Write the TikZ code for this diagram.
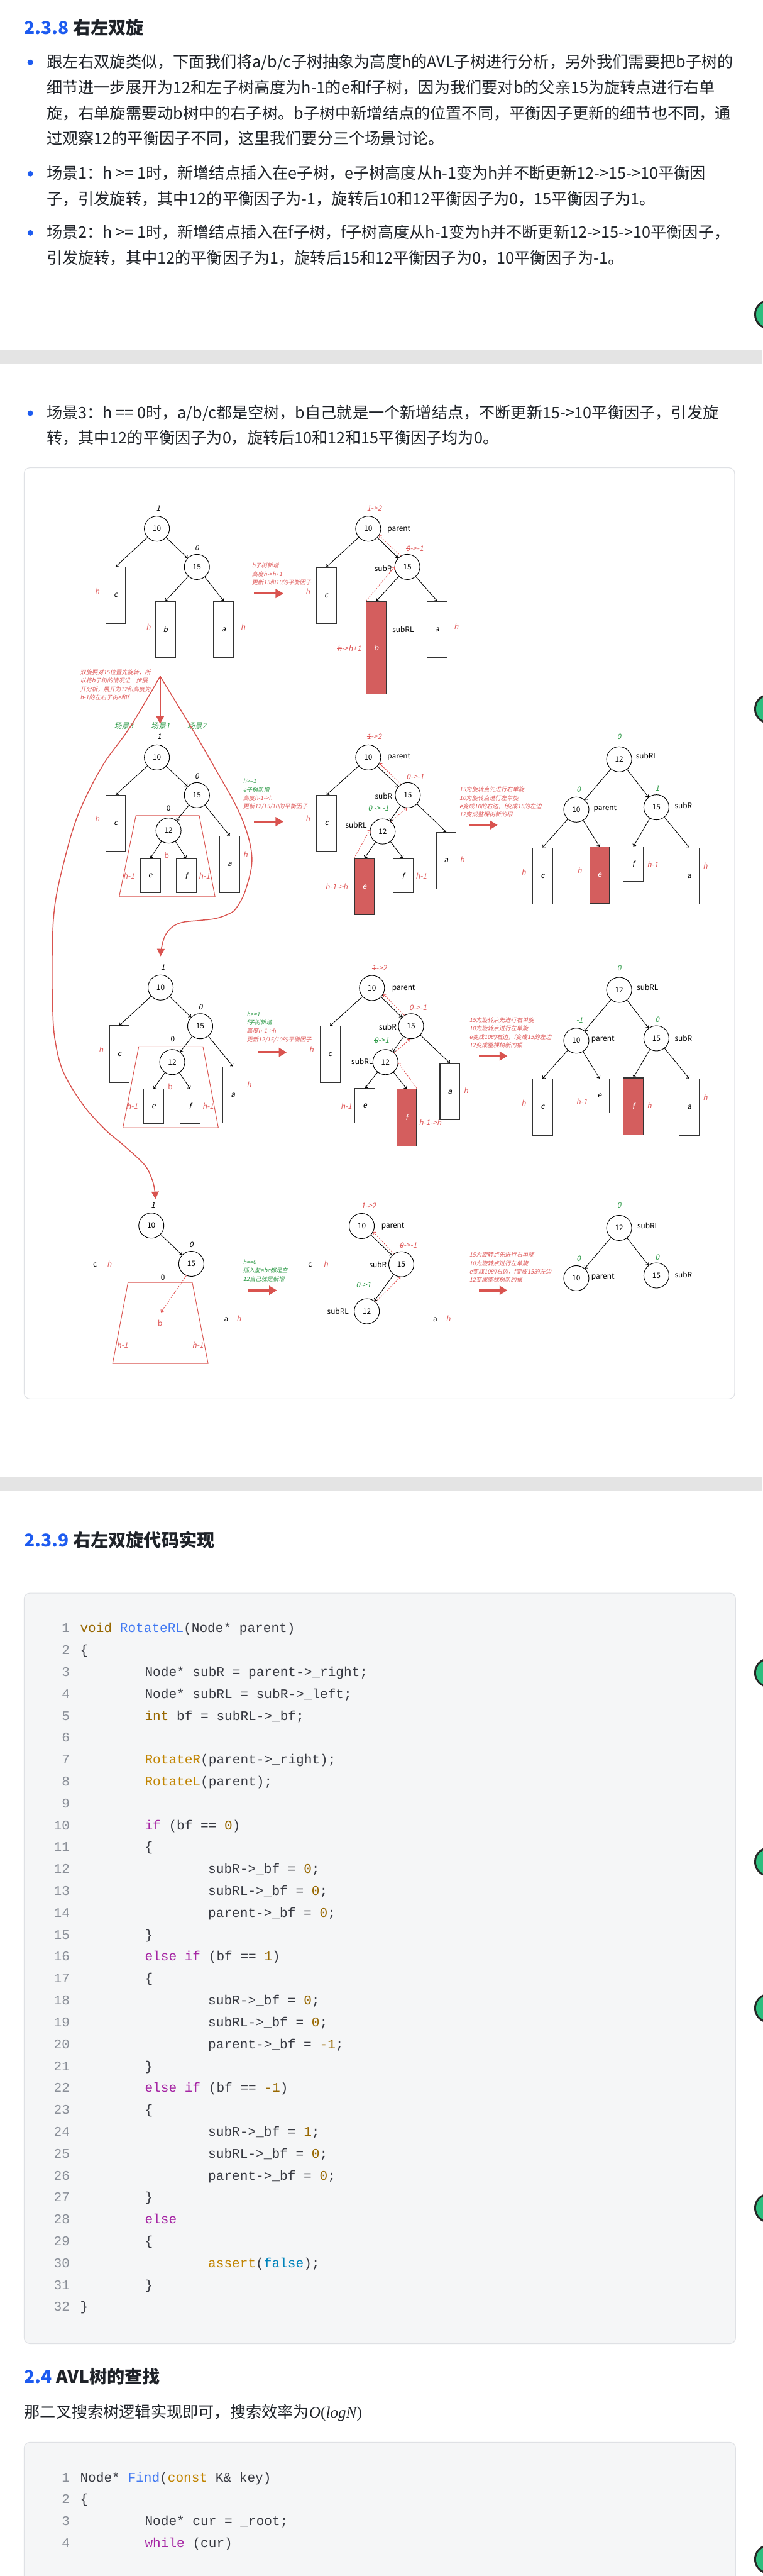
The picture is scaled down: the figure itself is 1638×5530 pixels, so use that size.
\documentclass[tikz,border=0pt]{standalone}
\usepackage{fontspec}
\setmainfont{Noto Sans CJK SC}
\setmonofont{Liberation Mono}
\newfontfamily\slf{Noto Sans CJK SC}[FakeSlant=0.2]
\newfontfamily\mth{Liberation Serif}
\usetikzlibrary{arrows.meta}
\definecolor{tred}{HTML}{E05A5A}
\definecolor{dred}{HTML}{E25050}
\definecolor{cred}{HTML}{D9534F}
\definecolor{rfill}{HTML}{D45E5E}
\definecolor{tgreen}{HTML}{2E9A48}
\definecolor{hblue}{HTML}{1D5BF0}
\definecolor{txt}{HTML}{1F2329}
\definecolor{bandc}{HTML}{E4E4E4}
\definecolor{cbg}{HTML}{F5F6F7}
\definecolor{cbord}{HTML}{DFE1E5}
\definecolor{kwc}{HTML}{A626A4}
\definecolor{fnc}{HTML}{4078F2}
\definecolor{tyc}{HTML}{986801}
\definecolor{gdc}{HTML}{C18401}
\definecolor{falc}{HTML}{0184BC}
\definecolor{lnc}{HTML}{8A8F98}
\definecolor{codec}{HTML}{383A42}
\definecolor{gcirc}{HTML}{2DBE7E}
\newcommand\stk[1]{\begingroup\setbox0\hbox{#1}\rlap{\raisebox{0.3em}{\rule{\wd0}{0.07em}}}\box0\endgroup}
\newcommand\Bx[6]{\node[sbt,minimum height=#4pt,#6] (#1) at (#2,#3) {#5};}
\newcommand\cl[3]{\node[lnum] (ln#1) at (150,{3497+(#1-1)*47}) {#1};\node[cdl] (cd#1) at (#2,{3497+(#1-1)*47}) {#3};}
\newcommand\fl[3]{\node[lnum] (fn#1) at (150,{5320+(#1-1)*47}) {#1};\node[cdl] (fc#1) at (#2,{5320+(#1-1)*47}) {#3};}
\tikzset{
 tn/.style={circle, draw=black, line width=1.3pt, minimum size=54pt, inner sep=0pt, fill=white, font=\fontsize{16}{16}\selectfont},
 sbt/.style={draw=black!80, line width=1.5pt, minimum width=43pt, inner sep=0pt, fill=white, font=\slf\fontsize{16}{16}\selectfont},
 redb/.style={fill=rfill, text=white},
 arr/.style={draw=black, line width=1.2pt, -{Computer Modern Rightarrow[length=5pt,width=9pt]}},
 dsh/.style={draw=dred, line width=1.2pt, dash pattern=on 3pt off 2.5pt, -{Computer Modern Rightarrow[length=5pt,width=8pt]}},
 lb/.style={inner sep=0pt, text height=12pt, text depth=3pt, font=\fontsize{16}{16}\selectfont},
 il/.style={inner sep=0pt, text height=12pt, text depth=3pt, font=\slf\fontsize{16}{16}\selectfont},
 rl/.style={il, text=tred},
 gl/.style={il, text=tgreen},
 note/.style={inner sep=0pt, anchor=north west, align=left, font=\slf\fontsize{12.5}{18}\selectfont},
 bigar/.style={draw=cred, line width=5pt, -{Triangle[length=17pt,width=19pt]}},
 bigc/.style={draw=cred, line width=2pt, -{Triangle[length=16pt,width=16pt]}},
 trap/.style={draw=cred, line width=1.3pt},
 body/.style={anchor=west, inner sep=0pt, text=txt, text height=30pt, text depth=8pt, font=\fontsize{34}{40}\selectfont},
 hd/.style={anchor=west, inner sep=0pt, text=txt, text height=33pt, text depth=9pt, font=\bfseries\fontsize{38}{44}\selectfont},
 bul/.style={circle, fill=hblue, minimum size=12pt, inner sep=0pt},
 cdl/.style={anchor=west, inner sep=0pt, text=codec, text height=21pt, text depth=6pt, font=\ttfamily\fontsize{28.5}{30}\selectfont},
 lnum/.style={anchor=east, inner sep=0pt, text=lnc, text height=21pt, text depth=6pt, font=\ttfamily\fontsize{28.5}{30}\selectfont},
}
\begin{document}
\begin{tikzpicture}[x=1pt,y=-1pt]
\useasboundingbox (0,0) rectangle (1638,5530);
\fill[white] (0,0) rectangle (1638,5530);
% ---------- top text
\node[hd] (h1) at (52,62) {\textcolor{hblue}{2.3.8} 右左双旋};
\node[bul] (d1) at (65,134) {};
\node[body] (t1) at (100,134) {跟左右双旋类似，下面我们将a/b/c子树抽象为高度h的AVL子树进行分析，另外我们需要把b子树的};
\node[body] (t2) at (100,190) {细节进一步展开为12和左子树高度为h-1的e和f子树，因为我们要对b的父亲15为旋转点进行右单};
\node[body] (t3) at (100,245) {旋，右单旋需要动b树中的右子树。b子树中新增结点的位置不同，平衡因子更新的细节也不同，通};
\node[body] (t4) at (100,299) {过观察12的平衡因子不同，这里我们要分三个场景讨论。};
\node[bul] (d2) at (65,373) {};
\node[body] (t5) at (100,373) {场景1：h >= 1时，新增结点插入在e子树，e子树高度从h-1变为h并不断更新12->15->10平衡因};
\node[body] (t6) at (100,429) {子，引发旋转，其中12的平衡因子为-1，旋转后10和12平衡因子为0，15平衡因子为1。};
\node[bul] (d3) at (65,500) {};
\node[body] (t7) at (100,500) {场景2：h >= 1时，新增结点插入在f子树，f子树高度从h-1变为h并不断更新12->15->10平衡因子，};
\node[body] (t8) at (100,556) {引发旋转，其中12的平衡因子为1，旋转后15和12平衡因子为0，10平衡因子为-1。};
\fill[bandc] (0,752) rectangle (1638,782);
\node[bul] (d4) at (65,887) {};
\node[body] (t9) at (100,887) {场景3：h == 0时，a/b/c都是空树，b自己就是一个新增结点，不断更新15->10平衡因子，引发旋};
\node[body] (t10) at (100,942) {转，其中12的平衡因子为0，旋转后10和12和15平衡因子均为0。};
% ---------- diagram frame
\draw[draw=cbord, line width=1.5pt, rounded corners=12pt, fill=white] (52,1004) rectangle (1578,3003);
% ===== Row 1 left
\node[tn] (A10) at (337,1135) {10};
\node[tn] (A15) at (423,1217) {15};
\node[il] (Abf10) at (340,1093) {1};
\node[il] (Abf15) at (423,1178) {0};
\Bx{Ac}{248.5}{1278}{122}{c}{}
\Bx{Ab}{355.5}{1351.5}{121}{b}{}
\Bx{Aa}{480.5}{1351.5}{121}{a}{}
\node[rl] (Ahc) at (209,1270) {h};
\node[rl] (Ahb) at (319,1347) {h};
\node[rl] (Aha) at (522,1347) {h};
\draw[arr] (A10) -- (Ac.north);
\draw[arr] (A10) -- (A15);
\draw[arr] (A15) -- (Ab.north);
\draw[arr] (A15) -- (Aa.north);
\node[note, text=tred] (N1) at (541,1208) {b子树新增\\高度h->h+1\\更新15和10的平衡因子};
\coordinate (G1s) at (546,1274); \coordinate (G1e) at (609,1274);
\draw[bigar] (G1s) -- (G1e);
% ===== Row 1 middle
\node[tn] (B10) at (791,1135) {10};
\node[tn] (B15) at (875,1217) {15};
\node[rl] (Bbf10) at (804,1093) {\stk{1}->2};
\node[lb] (Bp) at (857,1135) {parent};
\node[rl] (Bbf15) at (891,1179) {\stk{0}->-1};
\node[lb] (BsR) at (823,1222) {subR};
\Bx{Bc}{701}{1278.5}{121}{c}{}
\Bx{Bb}{808.5}{1390.5}{199}{b}{redb}
\Bx{Ba}{939}{1351.5}{121}{a}{}
\node[lb] (BsRL) at (866,1353) {subRL};
\node[rl] (Bha) at (980,1346) {h};
\node[rl] (Bhb) at (750,1393) {\stk{h}->h+1};
\node[rl] (Bhc) at (661,1272) {h};
\draw[arr] (B10) -- (Bc.north);
\draw[arr] (B10) -- (B15);
\draw[arr] (B15) -- (Bb.north);
\draw[arr] (B15) -- (Ba.north);
\draw[dsh] (B15.121) -- (B10.-32);
\draw[dsh] (Bb.north west) -- (B15.west);
% ===== Row 2 left
\draw[trap] (292,1751) -- (428,1751) -- (462,1925) -- (256,1925) -- cycle;
\node[tn] (C10) at (337,1626) {10};
\node[tn] (C15) at (423,1707) {15};
\node[tn] (C12) at (362,1783) {12};
\node[il] (Cbf10) at (342,1582) {1};
\node[il] (Cbf15) at (423,1668) {0};
\node[lb] (Cbf12) at (362,1737) {0};
\Bx{Cc}{248.5}{1767.5}{121}{c}{}
\Bx{Ca}{493.5}{1855.5}{121}{a}{}
\Bx{Ce}{323}{1880}{74}{e}{}
\Bx{Cf}{400}{1880}{74}{f}{}
\node[lb, text=tred] (Cb) at (358,1838) {b};
\node[rl] (Chc) at (209,1760) {h};
\node[rl] (Cha) at (527,1837) {h};
\node[rl] (Che) at (277,1882) {h-1};
\node[rl] (Chf) at (439,1882) {h-1};
\draw[arr] (C10) -- (Cc.north);
\draw[arr] (C10) -- (C15);
\draw[arr] (C15) -- (C12);
\draw[arr] (C15) -- (Ca.north);
\draw[arr] (C12) -- (Ce.north);
\draw[arr] (C12) -- (Cf.north);
\node[gl] (S3) at (266,1560) {场景3};
\node[gl] (S1) at (345,1560) {场景1};
\node[gl] (S2) at (423,1560) {场景2};
\node[note, text=tred] (N0) at (172,1437) {双旋要对15位置先旋转，所\\以将b子树的情况进一步展\\开分析，展开为12和高度为\\h-1的左右子树e和f};
\coordinate (apex) at (344,1452);
\coordinate (E1) at (344,1554);
\coordinate (E2) at (345,2053);
\coordinate (E3) at (334,2574);
\draw[bigc] (apex) -- (E1);
\draw[bigc] plot[smooth, tension=0.6] coordinates {(apex) (410,1560) (460,1646) (517,1751) (541,1838) (528,1909) (507,1950) (489,1963) (462,1972) (428,1976) (392,1980) (370,1990) (355,2008) (347,2034) (E2)};
\draw[bigc] plot[smooth, tension=0.6] coordinates {(apex) (280,1560) (219,1646) (167,1751) (136,1856) (117,1950) (112,2055) (113,2160) (118,2231) (136,2301) (178,2371) (225,2424) (266,2459) (310,2500) (326,2530) (332,2553) (E3)};
\node[note] (N2) at (522,1672) {\textcolor{tgreen}{h>=1}\\\textcolor{tgreen}{e子树新增}\\\textcolor{tred}{高度h-1->h}\\\textcolor{tred}{更新12/15/10的平衡因子}};
\coordinate (G2s) at (546,1764); \coordinate (G2e) at (609,1764);
\draw[bigar] (G2s) -- (G2e);
% ===== Row 2 middle
\node[tn] (D10) at (791,1626) {10};
\node[tn] (D15) at (876,1707) {15};
\node[tn] (D12) at (822,1785) {12};
\node[rl] (Dbf10) at (804,1583) {\stk{1}->2};
\node[lb] (Dp) at (857,1625) {parent};
\node[rl] (Dbf15) at (892,1669) {\stk{0}->-1};
\node[lb] (DsR) at (824,1711) {subR};
\node[gl] (Dbf12) at (813,1737) {\stk{0} -> -1};
\node[lb] (DsRL) at (765,1773) {subRL};
\Bx{Dc}{701.5}{1767.5}{121}{c}{}
\Bx{De}{783}{1903.5}{121}{e}{redb}
\Bx{Df}{866}{1880}{74}{f}{}
\Bx{Da}{958.5}{1847.5}{121}{a}{}
\node[rl] (Dhc) at (661,1760) {h};
\node[rl] (Dhe) at (723,1905) {\stk{h-1}->h};
\node[rl] (Dhf) at (905,1882) {h-1};
\node[rl] (Dha) at (993,1847) {h};
\draw[arr] (D10) -- (Dc.north);
\draw[arr] (D10) -- (D15);
\draw[arr] (D15) -- (D12);
\draw[arr] (D15) -- (Da.north);
\draw[arr] (D12) -- (De.north);
\draw[arr] (D12) -- (Df.north);
\draw[dsh] (D15.122) -- (D10.-28);
\draw[dsh] (D12.50) -- (D15.-95);
\draw[dsh] (De.north west) -- (D12.172);
\node[note, text=tred] (N3) at (987,1689) {15为旋转点先进行右单旋\\10为旋转点进行左单旋\\e变成10的右边，f变成15的左边\\12变成整棵树新的根};
\coordinate (G3s) at (1008,1771); \coordinate (G3e) at (1069,1771);
\draw[bigar] (G3s) -- (G3e);
% ===== Row 2 right
\node[tn] (E12) at (1330,1630) {12};
\node[tn] (E10) at (1238,1738) {10};
\node[tn] (E15) at (1410,1733) {15};
\node[gl] (Ebf12) at (1330,1582) {0};
\node[lb] (EsRL) at (1389,1624) {subRL};
\node[gl] (Ebf10) at (1243,1696) {0};
\node[gl] (Ebf15) at (1412,1693) {1};
\node[lb] (Ep) at (1300,1735) {parent};
\node[lb] (EsR) at (1468,1731) {subR};
\Bx{Ec}{1165.5}{1880.5}{121}{c}{}
\Bx{Ee}{1288}{1878.5}{121}{e}{redb}
\Bx{Ef}{1360.5}{1855}{74}{f}{}
\Bx{Ea}{1480.5}{1880.5}{121}{a}{}
\node[rl] (Ehc) at (1125,1874) {h};
\node[rl] (Ehe) at (1245,1870) {h};
\node[rl] (Ehf) at (1402,1858) {h-1};
\node[rl] (Eha) at (1515,1861) {h};
\draw[arr] (E12) -- (E10);
\draw[arr] (E12) -- (E15);
\draw[arr] (E10) -- (Ec.north);
\draw[arr] (E10) -- (Ee.north);
\draw[arr] (E15) -- (Ef.north);
\draw[arr] (E15) -- (Ea.north);
% ===== Row 3 left
\draw[trap] (298,2247) -- (436,2247) -- (469,2421) -- (264,2421) -- cycle;
\node[tn] (F10) at (345,2120) {10};
\node[tn] (F15) at (430,2203) {15};
\node[tn] (F12) at (370,2280) {12};
\node[il] (Fbf10) at (350,2078) {1};
\node[il] (Fbf15) at (431,2163) {0};
\node[lb] (Fbf12) at (371,2232) {0};
\Bx{Fc}{256.5}{2263}{122}{c}{}
\Bx{Fa}{500.5}{2350.5}{121}{a}{}
\Bx{Fe}{330}{2375}{74}{e}{}
\Bx{Ff}{408.5}{2375}{74}{f}{}
\node[lb, text=tred] (Fb) at (366,2335) {b};
\node[rl] (Fhc) at (217,2255) {h};
\node[rl] (Fha) at (535,2331) {h};
\node[rl] (Fhe) at (284,2377) {h-1};
\node[rl] (Fhf) at (447,2377) {h-1};
\draw[arr] (F10) -- (Fc.north);
\draw[arr] (F10) -- (F15);
\draw[arr] (F15) -- (F12);
\draw[arr] (F15) -- (Fa.north);
\draw[arr] (F12) -- (Fe.north);
\draw[arr] (F12) -- (Ff.north);
\node[note] (N4) at (530,2172) {\textcolor{tgreen}{h>=1}\\\textcolor{tgreen}{f子树新增}\\\textcolor{tred}{高度h-1->h}\\\textcolor{tred}{更新12/15/10的平衡因子}};
\coordinate (G4s) at (554,2259); \coordinate (G4e) at (616,2259);
\draw[bigar] (G4s) -- (G4e);
% ===== Row 3 middle
\node[tn] (G10) at (799,2121) {10};
\node[tn] (G15) at (883,2203) {15};
\node[tn] (G12) at (828,2280) {12};
\node[rl] (Gbf10) at (815,2079) {\stk{1}->2};
\node[lb] (Gp) at (867,2121) {parent};
\node[rl] (Gbf15) at (898,2164) {\stk{0}->-1};
\node[lb] (GsR) at (833,2206) {subR};
\node[gl] (Gbf12) at (820,2235) {\stk{0}->1};
\node[lb] (GsRL) at (778,2280) {subRL};
\Bx{Gc}{709}{2263.5}{121}{c}{}
\Bx{Ge}{784}{2374}{74}{e}{}
\Bx{Gf}{873.5}{2399}{122}{f}{redb}
\Bx{Ga}{966.5}{2343.5}{121}{a}{}
\node[rl] (Ghc) at (669,2255) {h};
\node[rl] (Ghe) at (744,2376) {h-1};
\node[rl] (Ghf) at (924,2411) {\stk{h-1}->h};
\node[rl] (Gha) at (1001,2342) {h};
\draw[arr] (G10) -- (Gc.north);
\draw[arr] (G10) -- (G15);
\draw[arr] (G15) -- (G12);
\draw[arr] (G15) -- (Ga.north);
\draw[arr] (G12) -- (Ge.north);
\draw[arr] (G12) -- (Gf.north);
\draw[dsh] (G15.121) -- (G10.-28);
\draw[dsh] (G12.47) -- (G15.-94);
\draw[dsh] (Gf.north east) -- (G12.-3);
\node[note, text=tred] (N5) at (1008,2184) {15为旋转点先进行右单旋\\10为旋转点进行左单旋\\e变成10的右边，f变成15的左边\\12变成整棵树新的根};
\coordinate (G5s) at (1029,2267); \coordinate (G5e) at (1090,2267);
\draw[bigar] (G5s) -- (G5e);
% ===== Row 3 right
\node[tn] (H12) at (1330,2125) {12};
\node[tn] (H10) at (1238,2234) {10};
\node[tn] (H15) at (1410,2229) {15};
\node[gl] (Hbf12) at (1330,2079) {0};
\node[lb] (HsRL) at (1391,2121) {subRL};
\node[gl] (Hbf10) at (1245,2192) {-1};
\node[lb] (Hp) at (1295,2231) {parent};
\node[gl] (Hbf15) at (1412,2190) {0};
\node[lb] (HsR) at (1468,2230) {subR};
\Bx{Hc}{1165.5}{2376.5}{121}{c}{}
\Bx{He}{1288}{2352.5}{73}{e}{}
\Bx{Hf}{1360.5}{2375}{122}{f}{redb}
\Bx{Ha}{1480.5}{2376.5}{121}{a}{}
\node[rl] (Hhc) at (1125,2369) {h};
\node[rl] (Hhe) at (1250,2367) {h-1};
\node[rl] (Hhf) at (1395,2375) {h};
\node[rl] (Hha) at (1515,2357) {h};
\draw[arr] (H12) -- (H10);
\draw[arr] (H12) -- (H15);
\draw[arr] (H10) -- (Hc.north);
\draw[arr] (H10) -- (He.north);
\draw[arr] (H15) -- (Hf.north);
\draw[arr] (H15) -- (Ha.north);
% ===== Row 4 left
\draw[trap] (275,2753) -- (413,2753) -- (447,2927) -- (242,2927) -- cycle;
\node[tn] (I10) at (325,2631) {10};
\node[tn] (I15) at (411,2713) {15};
\node[il] (Ibf10) at (329,2589) {1};
\node[il] (Ibf15) at (411,2674) {0};
\node[lb] (Ic) at (204,2715) {c};
\node[rl] (Ihc) at (235,2715) {h};
\node[lb] (I0) at (350,2743) {0};
\coordinate (Ibt) at (346,2817);
\draw[dsh] (I15.-113) -- (Ibt);
\node[lb, text=tred] (Ib) at (344,2842) {b};
\node[rl] (Ih1) at (263,2889) {h-1};
\node[rl] (Ih2) at (425,2889) {h-1};
\node[lb] (Ia) at (486,2833) {a};
\node[rl] (Iha) at (513,2833) {h};
\draw[arr] (I10) -- (I15);
\node[note, text=tgreen] (N6) at (522,2704) {h==0\\插入前abc都是空\\12自己就是新增};
\coordinate (G6s) at (533,2770); \coordinate (G6e) at (595,2770);
\draw[bigar] (G6s) -- (G6e);
% ===== Row 4 middle
\node[tn] (J10) at (777,2632) {10};
\node[tn] (J15) at (862,2714) {15};
\node[tn] (J12) at (788,2815) {12};
\node[rl] (Jbf10) at (792,2590) {\stk{1}->2};
\node[lb] (Jp) at (844,2632) {parent};
\node[rl] (Jbf15) at (877,2675) {\stk{0}->-1};
\node[lb] (JsR) at (812,2717) {subR};
\node[gl] (Jbf12) at (781,2760) {\stk{0}->1};
\node[lb] (JsRL) at (726,2817) {subRL};
\node[lb] (Jc) at (666,2715) {c};
\node[rl] (Jhc) at (700,2715) {h};
\node[lb] (Ja) at (935,2833) {a};
\node[rl] (Jha) at (963,2833) {h};
\draw[arr] (J10) -- (J15);
\draw[arr] (J15) -- (J12);
\draw[dsh] (J15.125) -- (J10.-27);
\draw[dsh] (J12.47) -- (J15.-94);
\node[note, text=tred] (N7) at (1008,2688) {15为旋转点先进行右单旋\\10为旋转点进行左单旋\\e变成10的右边，f变成15的左边\\12变成整棵树新的根};
\coordinate (G7s) at (1029,2770); \coordinate (G7e) at (1090,2770);
\draw[bigar] (G7s) -- (G7e);
% ===== Row 4 right
\node[tn] (K12) at (1330,2636) {12};
\node[tn] (K10) at (1238,2744) {10};
\node[tn] (K15) at (1410,2738) {15};
\node[gl] (Kbf12) at (1330,2589) {0};
\node[lb] (KsRL) at (1392,2633) {subRL};
\node[gl] (Kbf10) at (1243,2703) {0};
\node[lb] (Kp) at (1295,2741) {parent};
\node[gl] (Kbf15) at (1412,2700) {0};
\node[lb] (KsR) at (1468,2738) {subR};
\draw[arr] (K12) -- (K10);
\draw[arr] (K12) -- (K15);
% ---------- section 2.3.9
\fill[bandc] (0,3172) rectangle (1638,3200);
\node[hd] (h2) at (52,3308) {\textcolor{hblue}{2.3.9} 右左双旋代码实现};
\draw[draw=cbord, line width=1.5pt, rounded corners=12pt, fill=cbg] (52,3420) rectangle (1580,5031);
\cl{1}{172}{\textcolor{tyc}{void} \textcolor{fnc}{RotateRL}(Node* parent)}
\cl{2}{172}{\{}
\cl{3}{311}{Node* subR = parent->\_right;}
\cl{4}{311}{Node* subRL = subR->\_left;}
\cl{5}{311}{\textcolor{tyc}{int} bf = subRL->\_bf;}
\cl{6}{311}{}
\cl{7}{311}{\textcolor{gdc}{RotateR}(parent->\_right);}
\cl{8}{311}{\textcolor{gdc}{RotateL}(parent);}
\cl{9}{311}{}
\cl{10}{311}{\textcolor{kwc}{if} (bf == \textcolor{tyc}{0})}
\cl{11}{311}{\{}
\cl{12}{447}{subR->\_bf = \textcolor{tyc}{0};}
\cl{13}{447}{subRL->\_bf = \textcolor{tyc}{0};}
\cl{14}{447}{parent->\_bf = \textcolor{tyc}{0};}
\cl{15}{311}{\}}
\cl{16}{311}{\textcolor{kwc}{else if} (bf == \textcolor{tyc}{1})}
\cl{17}{311}{\{}
\cl{18}{447}{subR->\_bf = \textcolor{tyc}{0};}
\cl{19}{447}{subRL->\_bf = \textcolor{tyc}{0};}
\cl{20}{447}{parent->\_bf = \textcolor{tyc}{-1};}
\cl{21}{311}{\}}
\cl{22}{311}{\textcolor{kwc}{else if} (bf == \textcolor{tyc}{-1})}
\cl{23}{311}{\{}
\cl{24}{447}{subR->\_bf = \textcolor{tyc}{1};}
\cl{25}{447}{subRL->\_bf = \textcolor{tyc}{0};}
\cl{26}{447}{parent->\_bf = \textcolor{tyc}{0};}
\cl{27}{311}{\}}
\cl{28}{311}{\textcolor{kwc}{else}}
\cl{29}{311}{\{}
\cl{30}{447}{\textcolor{gdc}{assert}(\textcolor{falc}{false});}
\cl{31}{311}{\}}
\cl{32}{172}{\}}
% ---------- section 2.4
\node[hd] (h3) at (52,5104) {\textcolor{hblue}{2.4} AVL树的查找};
\node[body] (p1) at (52,5180) {那二叉搜索树逻辑实现即可，搜索效率为{\mth\itshape O}{\mth(}{\mth\itshape logN}{\mth)}};
\draw[draw=cbord, line width=1.5pt, rounded corners=12pt, fill=cbg] (52,5243) rectangle (1580,5620);
\fl{1}{172}{Node* \textcolor{fnc}{Find}(\textcolor{gdc}{const} K\& key)}
\fl{2}{172}{\{}
\fl{3}{311}{Node* cur = \_root;}
\fl{4}{311}{\textcolor{kwc}{while} (cur)}
% ---------- floating buttons at right edge
\foreach \yy in {675,1522,3591,3997,4311,4740,5494}
  \draw[line width=4pt, draw=black!85, fill=gcirc] (1652,\yy) circle[radius=30pt];
\end{tikzpicture}
\end{document}
